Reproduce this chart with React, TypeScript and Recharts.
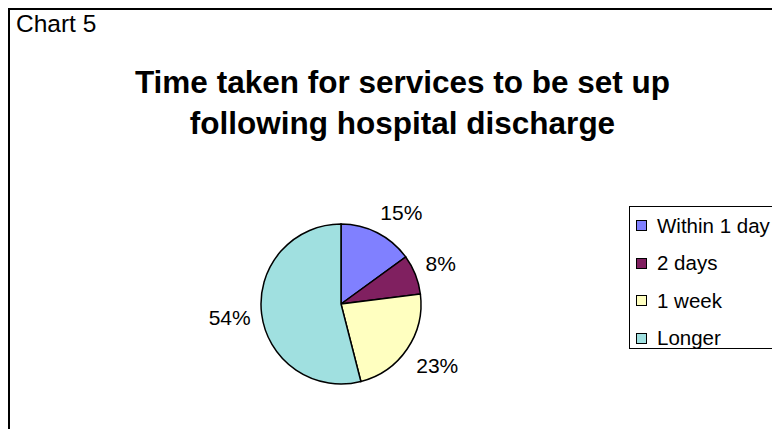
import React from 'react';
import { PieChart, Pie, Cell, Legend } from 'recharts';

const categories = ['Within 1 day', '2 days', '1 week', 'Longer'];
const values = [15, 8, 23, 54];
const colors = ['#8080FF', '#802060', '#FFFFC0', '#A0E0E0'];
const chartLabel = 'Chart 5';
const titleLines = ['Time taken for services to be set up', 'following hospital discharge'];

const data = categories.map((name, i) => ({ name, value: values[i] }));

const FONT = '"Liberation Sans", Arial, sans-serif';
const RAD = Math.PI / 180;
const clamp = (v: number) => Math.max(-1, Math.min(1, v));

const renderLabel = (props: any) => {
  const { cx, cy, midAngle, outerRadius, value } = props;
  const fs = 21;
  const text = `${value}%`;
  const digits = String(value).length;
  const w = (digits * 0.556 + 0.889) * fs;
  const h = 20;
  const d = outerRadius + 11;
  const c = Math.cos(-midAngle * RAD);
  const s = Math.sin(-midAngle * RAD);
  const ax = cx + d * c;
  const ay = cy + d * s;
  const x = ax + (w / 2) * clamp(2 * c);
  const y = ay + (h / 2) * clamp(2 * s);
  return (
    <text x={x} y={y + 0.358 * fs} textAnchor="middle" fontFamily={FONT} fontSize={fs} fill="#000">
      {text}
    </text>
  );
};

const renderLegend = (props: any) => {
  const payload = [...(props.payload || [])].sort(
    (a: any, b: any) => categories.indexOf(a.value) - categories.indexOf(b.value)
  );
  return (
    <div
      style={{
        border: '1px solid #000',
        width: 200,
        height: 143,
        boxSizing: 'border-box',
        background: '#fff',
        overflow: 'hidden',
      }}
    >
      {payload.map((entry: any, i: number) => (
        <div key={i} style={{ display: 'flex', alignItems: 'center', height: 37.5, paddingLeft: 6 }}>
          <span
            style={{
              display: 'inline-block',
              width: 11,
              height: 11,
              boxSizing: 'border-box',
              border: '1px solid #000',
              background: entry.color,
              marginRight: 10,
              flexShrink: 0,
            }}
          />
          <span style={{ fontFamily: FONT, fontSize: 20.5, color: '#000', whiteSpace: 'nowrap' }}>{entry.value}</span>
        </div>
      ))}
    </div>
  );
};

export default function App() {
  return (
    <div
      style={{
        position: 'relative',
        width: 772,
        height: 421,
        boxSizing: 'border-box',
        borderLeft: '2px solid #000',
        borderTop: '2px solid #000',
        overflow: 'hidden',
        background: '#fff',
      }}
    >
      <div style={{ position: 'absolute', left: 0, top: 0 }}>
        <PieChart width={770} height={419} margin={{ top: 0, right: 0, bottom: 0, left: 0 }}>
          <Pie
            data={data}
            dataKey="value"
            nameKey="name"
            cx={331}
            cy={294}
            outerRadius={80}
            startAngle={90}
            endAngle={-270}
            stroke="#000"
            strokeWidth={1.5}
            label={renderLabel}
            labelLine={false}
            isAnimationActive={false}
          >
            {data.map((_, i) => (
              <Cell key={i} fill={colors[i]} />
            ))}
          </Pie>
          <Legend
            layout="vertical"
            align="right"
            verticalAlign="top"
            itemSorter={null as any}
            content={renderLegend}
            wrapperStyle={{ position: 'absolute', left: 619, top: 196, width: 200 }}
          />
        </PieChart>
      </div>
      <svg width={770} height={419} style={{ position: 'absolute', left: 0, top: 0, pointerEvents: 'none' }}>
        <text x={6} y={22} fontFamily={FONT} fontSize={24.5} fill="#000">
          {chartLabel}
        </text>
        {titleLines.map((line, i) => (
          <text
            key={i}
            x={392.5}
            y={83 + i * 41}
            textAnchor="middle"
            fontFamily={FONT}
            fontSize={31.5}
            fontWeight="bold"
            fill="#000"
          >
            {line}
          </text>
        ))}
      </svg>
    </div>
  );
}
